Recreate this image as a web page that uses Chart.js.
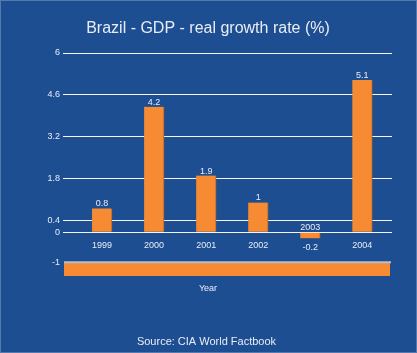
<!DOCTYPE html>
<html>
<head>
<meta charset="utf-8">
<script src="https://cdn.jsdelivr.net/npm/chart.js@4.4.1/dist/chart.umd.min.js"></script>
<style>
  html, body { margin: 0; padding: 0; background: #1d4e92; }
  canvas { display: block; }
</style>
</head>
<body>
<canvas id="c" width="417" height="353"></canvas>
<script>
const categories = ['1999', '2000', '2001', '2002', '2003', '2004'];
const growth = [0.8, 4.2, 1.9, 1, -0.2, 5.1];
const valueLabels = ['0.8', '4.2', '1.9', '1', '-0.2', '5.1'];
const yTicks = [-1, 0, 0.4, 1.8, 3.2, 4.6, 6];
const titleText = 'Brazil - GDP - real growth rate (%)';
const xTitle = 'Year';
const sourceText = 'Source: CIA World Factbook';

const FONT = '"Liberation Sans", Arial, sans-serif';
const BG = '#1d4e92';
const ORANGE = '#f68b33';
const TEXT = '#e8edf5';

const decor = {
  id: 'decor',
  beforeDraw(chart) {
    const ctx = chart.ctx;
    ctx.save();
    ctx.fillStyle = BG;
    ctx.fillRect(0, 0, chart.width, chart.height);
    ctx.strokeStyle = '#5679ad';
    ctx.lineWidth = 1;
    ctx.strokeRect(0.5, 0.5, chart.width - 1, chart.height - 1);
    ctx.restore();
  },
  beforeDatasetsDraw(chart) {
    const ctx = chart.ctx;
    const a = chart.chartArea;
    const y = chart.scales.y;
    const top = y.getPixelForValue(-1);
    ctx.save();
    ctx.fillStyle = ORANGE;
    ctx.fillRect(a.left + 1, top, a.right - a.left - 3, a.bottom - top);
    ctx.fillStyle = '#b8bfca';
    ctx.fillRect(a.left + 1, top - 1, a.right - a.left - 2, 2);
    ctx.restore();
  },
  afterDatasetsDraw(chart) {
    const ctx = chart.ctx;
    const xs = chart.scales.x;
    const ys = chart.scales.y;
    const zeroY = ys.getPixelForValue(0);
    ctx.save();
    ctx.fillStyle = TEXT;
    ctx.textAlign = 'center';
    ctx.textBaseline = 'alphabetic';
    ctx.font = '9px ' + FONT;
    categories.forEach((cat, i) => {
      const x = xs.getPixelForValue(i);
      const v = growth[i];
      const vy = ys.getPixelForValue(v);
      if (v >= 0) {
        ctx.fillText(cat, x, zeroY + 15.5);
        ctx.fillText(valueLabels[i], x, vy - 2);
      } else {
        ctx.fillText(cat, x, zeroY - 2);
        ctx.fillText(valueLabels[i], x, vy + 12);
      }
    });
    ctx.font = '16px ' + FONT;
    ctx.fillText(titleText, 208, 33);
    ctx.font = '9px ' + FONT;
    ctx.fillText(xTitle, 208, 291);
    ctx.font = '11px ' + FONT;
    ctx.fillText(sourceText, 206.5, 345);
    ctx.restore();
  }
};

new Chart(document.getElementById('c'), {
  type: 'bar',
  data: {
    datasets: [{
      data: growth.map((v, i) => ({ x: i, y: v })),
      backgroundColor: ORANGE,
      borderColor: '#a8612c',
      borderWidth: { top: 0, left: 0, bottom: 0, right: 1 },
      borderSkipped: false,
      barThickness: 20
    }]
  },
  options: {
    responsive: false,
    animation: false,
    devicePixelRatio: 1,
    layout: { padding: { left: 0, right: 25, top: 53, bottom: 77 } },
    plugins: { legend: { display: false }, title: { display: false }, tooltip: { enabled: false } },
    scales: {
      x: {
        type: 'linear',
        min: -0.75,
        max: 5.57,
        offset: false,
        grid: { offset: false },
        display: false
      },
      y: {
        type: 'linear',
        min: -1.46,
        max: 6,
        afterBuildTicks: s => { s.ticks = yTicks.map(v => ({ value: v })); },
        afterFit: s => { s.width = 63; },
        border: { display: false },
        grid: {
          drawTicks: false,
          color: c => (c.tick && c.tick.value === -1) ? 'rgba(0,0,0,0)' : '#f4f4f4',
          lineWidth: 1
        },
        ticks: {
          padding: 3,
          color: TEXT,
          font: { size: 9, family: FONT },
          callback: v => String(v)
        }
      }
    }
  },
  plugins: [decor]
});
</script>
</body>
</html>
